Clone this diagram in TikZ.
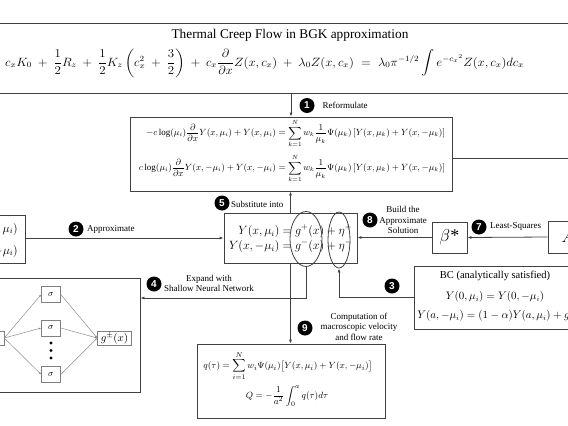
\documentclass[tikz,border=0pt]{standalone}
\usepackage{amsmath}
\usepackage{fontspec}
\setmainfont{Liberation Serif}
\newfontfamily\numfont{Liberation Sans}
\usetikzlibrary{arrows.meta,shapes.geometric}
\tikzset{
 box/.style={draw=black!75, line width=0.8pt, inner sep=0pt},
 conn/.style={draw=black!75, line width=0.8pt, -{Latex[length=4pt,width=3pt]}},
 plainline/.style={draw=black!75, line width=0.8pt},
 num/.style={circle, fill=black, text=white, inner sep=0pt, minimum size=15pt, font=\numfont\bfseries\fontsize{10}{10}\selectfont},
 lbl/.style={font=\fontsize{9}{10.5}\selectfont, align=center, inner sep=0pt},
 nnbox/.style={draw=black!50, line width=0.6pt, minimum width=19pt, minimum height=16pt, inner sep=0pt, fill=white, font=\fontsize{9}{10}\selectfont},
 nnline/.style={draw=black!45, line width=0.5pt, -{Latex[length=2.5pt,width=2pt]}},
 ell/.style={ellipse, draw=black!75, line width=0.8pt, inner sep=0pt},
}
\begin{document}
\begin{tikzpicture}[x=1pt,y=-1pt]
\useasboundingbox (0,0) rectangle (568,426);
% ---------- top box
\node[box, minimum width=620pt, minimum height=70pt] (top) at (284,58) {};
\node[font=\fontsize{13.3}{15}\selectfont, inner sep=0pt] (title) at (290,35) {Thermal Creep Flow in BGK approximation};
\node[anchor=west, inner sep=0pt] (teq) at (5,63) {\scalebox{1.07}[1]{\fontsize{12}{14}\selectfont\medmuskip=8mu\thickmuskip=10mu $\displaystyle c_xK_0+\frac{1}{2}R_z+\frac{1}{2}K_z\left(c_x^2+\frac{3}{2}\right)+c_x\frac{\partial}{\partial x}Z(x,c_x)+\lambda_0Z(x,c_x)=\lambda_0\pi^{-1/2}\int e^{-{c_x}^2}Z(x,c_x)dc_x$}};
% ---------- reformulate box
\node[box, minimum width=322pt, minimum height=74pt] (ref) at (291,154) {};
\node[inner sep=0pt] (refeq) at (292,151) {\fontsize{9}{11}\selectfont $\begin{aligned}
-c\log(\mu_i)\frac{\partial}{\partial x}Y(x,\mu_i)+Y(x,\mu_i)&=\sum_{k=1}^{N}w_k\frac{1}{\mu_k}\Psi(\mu_k)\left[Y(x,\mu_k)+Y(x,-\mu_k)\right]\\[3pt]
c\log(\mu_i)\frac{\partial}{\partial x}Y(x,-\mu_i)+Y(x,-\mu_i)&=\sum_{k=1}^{N}w_k\frac{1}{\mu_k}\Psi(\mu_k)\left[Y(x,\mu_k)+Y(x,-\mu_k)\right]
\end{aligned}$};
\coordinate (refout) at (580,158);
% ---------- left box (cut)
\node[box, minimum width=60pt, minimum height=48pt] (lbox) at (-5,239) {};
\node[anchor=east, inner sep=0pt] (l1) at (18,229) {\fontsize{12}{14}\selectfont $Y(x,\mu_i)$};
\node[anchor=east, inner sep=0pt] (l2) at (18,251) {\fontsize{12}{14}\selectfont $Y(x,-\mu_i)$};
% ---------- main Y box
\node[box, minimum width=133pt, minimum height=50pt] (ybox) at (290.5,238) {};
\node[inner sep=0pt] (yeq) at (290.5,239) {\fontsize{12}{14}\selectfont $\begin{aligned}Y(x,\mu_i)&=g^{+}(x)+\eta^{+}\\[-2pt] Y(x,-\mu_i)&=g^{-}(x)+\eta^{-}\end{aligned}$};
\node[ell, minimum width=32pt, minimum height=55pt] (e1) at (306,239) {};
\node[ell, minimum width=22pt, minimum height=56pt] (e2) at (339,240) {};
% ---------- beta box and A box
\node[box, minimum width=35pt, minimum height=31pt, font=\fontsize{18}{20}\selectfont] (beta) at (449.5,237.5) {$\beta$*};
\node[box, minimum width=40pt, minimum height=32pt, font=\fontsize{18}{20}\selectfont] (abox) at (568,237) {$A$};
% ---------- BC box
\node[box, minimum width=162pt, minimum height=63pt] (bc) at (495,297.5) {};
\node[inner sep=0pt, font=\fontsize{10.5}{12}\selectfont] (bct) at (495,276) {BC (analytically satisfied)};
\node[inner sep=0pt] (bc1) at (495,297) {\fontsize{10.5}{12}\selectfont $Y(0,\mu_i)=Y(0,-\mu_i)$};
\node[inner sep=0pt] (bc2) at (495,316) {\fontsize{10.5}{12}\selectfont $Y(a,-\mu_i)=(1-\alpha)Y(a,\mu_i)+g_i$};
% ---------- q box
\node[box, minimum width=188pt, minimum height=74pt] (qbox) at (291,381) {};
\node[inner sep=0pt] (q1) at (288,366) {\fontsize{9.3}{11}\selectfont $\displaystyle q(\tau)=\sum_{i=1}^{N}w_i\Psi(\mu_i)\big[Y(x,\mu_i)+Y(x,-\mu_i)\big]$};
\node[inner sep=0pt] (q2) at (287,396) {\fontsize{9.3}{11}\selectfont $\displaystyle Q=-\frac{1}{a^2}\int_0^a q(\tau)d\tau$};
% ---------- NN box
\node[box, minimum width=160pt, minimum height=114pt] (nn) at (60,335) {};
\node[nnbox, minimum width=14pt, minimum height=14pt] (inp) at (-3,338) {};
\node[nnbox] (s1) at (51,294.5) {$\sigma$};
\node[nnbox] (s2) at (51,328) {$\sigma$};
\node[nnbox] (s3) at (51,374.5) {$\sigma$};
\node[nnbox, minimum width=34pt, minimum height=14pt, font=\fontsize{11}{12}\selectfont] (gout) at (114.5,338) {$g^{\pm}(x)$};
\foreach \s in {s1,s2,s3}{
  \draw[nnline] (inp.east) -- (\s.west);
  \draw[nnline] (\s.east) -- (gout.west);
}
\fill[black] (51,343) circle (1.6pt) (51,350.5) circle (1.6pt) (51,358) circle (1.6pt);
% ---------- connectors
\draw[conn] (top.south -| ref.north) -- (ref.north);
\draw[plainline] (ref.east |- refout) -- (refout);
\draw[conn] (lbox.east |- ybox.west) -- (ybox.west);
\draw[conn] (ybox.north) -- (ybox.north |- ref.south);
\draw[conn] (abox.west) -- (beta.east);
\draw[conn] (beta.west) -- (ybox.east |- beta.west);
\draw[conn] (e1.south) -- (e1.south |- 0,298) -- (nn.east |- 0,298);
\draw[conn] (bc.west |- 0,297) -- (e2.south |- 0,297) -- (e2.south);
\draw[conn] (ybox.south) -- (ybox.south |- qbox.north);
% ---------- step labels
\node[num] (n1) at (307,105.5) {1};
\node[lbl, anchor=west] (t1) at (322.5,105) {Reformulate};
\node[num] (n2) at (76,229) {2};
\node[lbl, anchor=west] (t2) at (87,229) {Approximate};
\node[num] (n3) at (392,286) {3};
\node[num] (n4) at (154,284) {4};
\node[lbl] (t4) at (209,283.5) {Expand with\\Shallow Neural Network};
\node[num] (n5) at (222,203) {5};
\node[lbl, anchor=west] (t5) at (231,204) {Substitute into};
\node[num] (n7) at (479,227) {7};
\node[lbl, anchor=west] (t7) at (490,226) {Least-Squares};
\node[num] (n8) at (370,220) {8};
\node[lbl] (t8) at (403,220) {Build the\\Approximate\\Solution};
\node[num] (n9) at (305,328) {9};
\node[lbl] (t9) at (359,326.5) {Computation of\\macroscopic velocity\\and flow rate};
\end{tikzpicture}
\end{document}
